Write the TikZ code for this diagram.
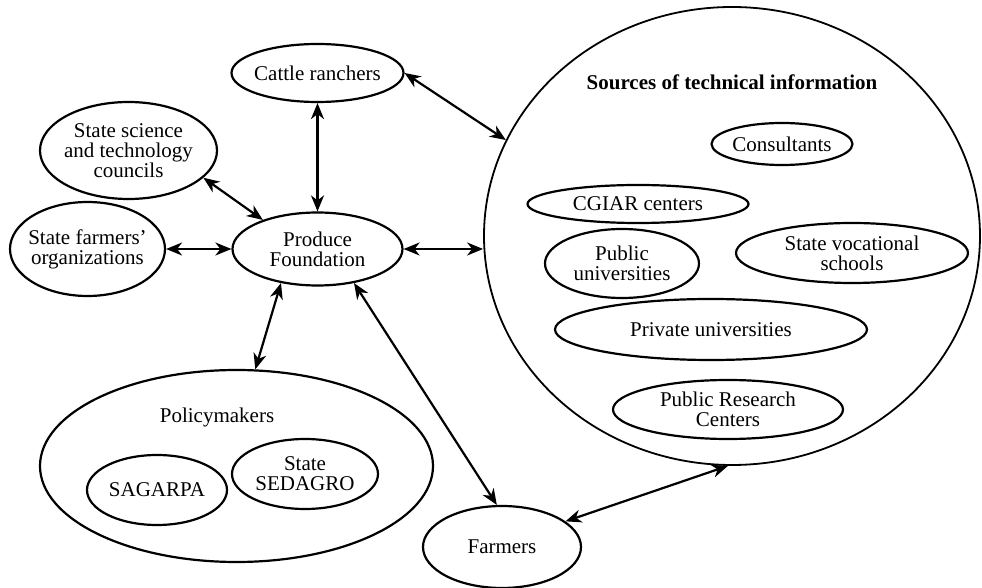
\documentclass[tikz,border=0pt]{standalone}
\usepackage{fontspec}
\setmainfont{Liberation Serif}
\usetikzlibrary{shapes.geometric, arrows.meta}

\begin{document}
\begin{tikzpicture}[x=0.5pt, y=-0.5pt,
		font=\fontsize{10.5}{10}\selectfont,
		oval/.style={draw, ellipse, line width=1.1pt, inner xsep=-5pt, inner ysep=0pt, align=center},
		link/.style={{Stealth[length=8pt, width=6.5pt, inset=2.5pt]}-{Stealth[length=8pt, width=6.5pt, inset=2.5pt]}, line width=1.1pt}]

		\useasboundingbox (0, 0) rectangle (982, 588);

		\node[oval, minimum width=86pt, minimum height=29pt] (cattle) at (317.5, 73) {Cattle ranchers};
		\node[oval, minimum width=85pt, minimum height=36.5pt] (produce) at (317.5, 249) {Produce\\Foundation};
		\node[oval, minimum width=88.5pt, minimum height=48.5pt] (science) at (128.5, 150.5) {State science\\and technology\\councils};
		\node[oval, minimum width=77.5pt, minimum height=47pt] (orgs) at (87.5, 249) {State farmers'\\organizations};

		\node[oval, minimum width=196.5pt, minimum height=96pt] (policy) at (236.5, 466) {};
		\node (policytitle) at (217, 417) {Policymakers};
		\node[oval, minimum width=70pt, minimum height=35pt] (sagarpa) at (157, 490) {SAGARPA};
		\node[oval, minimum width=73pt, minimum height=35pt] (sedagro) at (305, 474) {State\\SEDAGRO};

		\node[oval, minimum width=79pt, minimum height=41pt] (farmers) at (502, 547) {Farmers};

		\node[draw, ellipse, line width=0.9pt, minimum width=248pt, minimum height=229pt] (sources) at (732, 236) {};
		\node[font=\fontsize{10.5}{10}\selectfont\bfseries] (sourcestitle) at (732, 82) {Sources of technical information};
		\node[oval, minimum width=70.5pt, minimum height=21pt] (consultants) at (782, 144) {Consultants};
		\node[oval, minimum width=110.5pt, minimum height=19pt] (cgiar) at (638, 204) {CGIAR centers};
		\node[oval, minimum width=77pt, minimum height=34.5pt] (pubuni) at (622, 263.5) {Public\\universities};
		\node[oval, minimum width=116pt, minimum height=30pt] (vocational) at (852, 253) {State vocational\\schools};
		\node[oval, minimum width=156pt, minimum height=30.5pt] (privuni) at (711, 329.5) {Private universities};
		\node[oval, minimum width=115pt, minimum height=29.5pt] (research) at (728, 409.5) {Public Research\\Centers};

		\draw[link] (orgs.east) -- (orgs.east -| produce.west);
		\draw[link] (science.-20) -- (produce.152);
		\draw[link] (cattle.south) -- (produce.north);
		\draw[link] (cattle.east) -- (sources.157.5);
		\draw[link] (produce.east) -- (produce.east -| sources.west);
		\draw[link] (produce.223) -- (policy.79);
		\draw[link] (produce.-43) -- (farmers.97);
		\draw[link] (farmers.22) -- (sources.269);

	\end{tikzpicture}
\end{document}
